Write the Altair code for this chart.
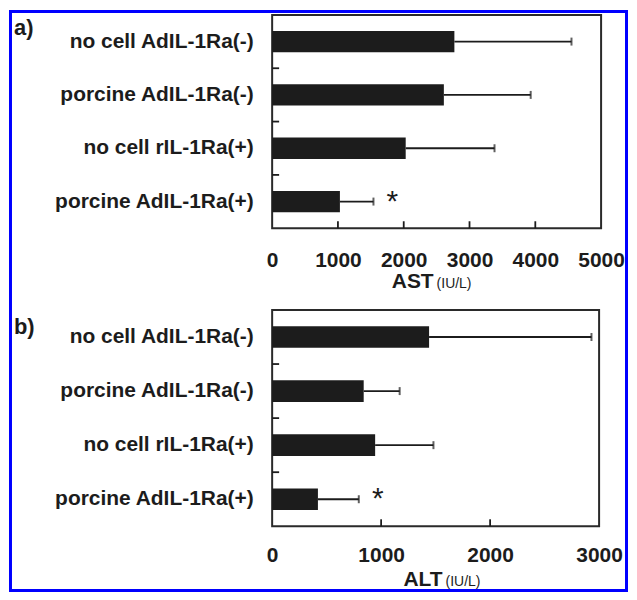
import altair as alt
import pandas as pd

categories = ["no cell AdIL-1Ra(-)", "porcine AdIL-1Ra(-)", "no cell rIL-1Ra(+)", "porcine AdIL-1Ra(+)"]
ast_mean = [2770, 2610, 2030, 1030]
ast_sd = [1780, 1320, 1350, 510]
alt_mean = [1440, 840, 945, 420]
alt_sd = [1490, 330, 535, 375]
significant = [False, False, False, True]
ast_ticks = [0, 1000, 2000, 3000, 4000, 5000]
alt_ticks = [0, 1000, 2000, 3000]

BOLD = "Liberation Sans, Arial, sans-serif"
INK = "#1c1c1c"


def panel(mean, sd, ticks, letter, name, w, h, pad_lbl, title_base, title_shift, letter_y, border=False):
    df = pd.DataFrame({
        "cat": categories,
        "mean": mean,
        "upper": [m + s for m, s in zip(mean, sd)],
        "sig": significant,
    })
    xs = alt.Scale(domain=[ticks[0], ticks[-1]], nice=False, zero=True)
    ys = alt.Scale(domain=categories, paddingInner=0.6, paddingOuter=0.3)
    y_axis = alt.Axis(ticks=False, domain=False, grid=False, labelFont=BOLD,
                      labelFontSize=21, labelFontWeight="bold", labelColor=INK,
                      labelPadding=19, labelLimit=400)
    y_enc = alt.Y("cat:N", sort=categories, scale=ys, title=None, axis=y_axis)
    x_axis = alt.Axis(values=ticks, ticks=False, domain=False, grid=False,
                      labelFlush=False, labelFont=BOLD, labelFontSize=21,
                      labelFontWeight="bold", labelColor=INK, labelPadding=pad_lbl,
                      format="d")
    base = alt.Chart(df)
    bars = base.mark_bar(color=INK).encode(
        x=alt.X("mean:Q", scale=xs, title=None, axis=x_axis), y=y_enc)
    err = base.mark_rule(color=INK, strokeWidth=1.8).encode(
        x=alt.X("mean:Q", scale=xs, title=None, axis=x_axis), x2="upper:Q", y=y_enc)
    cap = base.mark_tick(color=INK, thickness=2, size=8).encode(
        x=alt.X("upper:Q", scale=xs, title=None, axis=x_axis), y=y_enc)
    star = base.transform_filter(alt.datum.sig).mark_text(
        text="*", fontSize=30, font=BOLD, color=INK, dx=19, dy=9,
        baseline="alphabetic", align="center").encode(
        x=alt.X("upper:Q", scale=xs, title=None, axis=x_axis), y=y_enc)

    tick_df = pd.DataFrame({"v": ticks[1:-1]})
    xticks = alt.Chart(tick_df).mark_rule(color=INK, strokeWidth=1.8).encode(
        x=alt.X("v:Q", scale=xs, title=None, axis=x_axis), y=alt.value(h), y2=alt.value(h - 7))

    one = pd.DataFrame({"k": [0]})
    letter_t = alt.Chart(one).mark_text(
        text=letter, font=BOLD, fontSize=22, fontWeight="bold", color=INK,
        align="left", baseline="alphabetic").encode(
        x=alt.value(13 - 272), y=alt.value(letter_y))
    cx = w / 2
    t1 = alt.Chart(one).mark_text(
        text=name, font=BOLD, fontSize=21, fontWeight="bold", color=INK,
        align="right", baseline="alphabetic").encode(
        x=alt.value(cx + title_shift), y=alt.value(title_base))
    t2 = alt.Chart(one).mark_text(
        text="(IU/L)", font=BOLD, fontSize=14, color=INK,
        align="left", baseline="alphabetic").encode(
        x=alt.value(cx + title_shift + 3), y=alt.value(title_base))

    layers = [bars, err, cap, star, xticks, letter_t, t1, t2]
    if border:
        frame = alt.Chart(one).mark_rect(fillOpacity=0, stroke="#0000ff", strokeWidth=3).encode(
            x=alt.value(-262.5), x2=alt.value(355.5), y=alt.value(-3.5), y2=alt.value(577.5))
        layers.append(frame)
    main = alt.layer(*layers)

    sep_df = pd.DataFrame({"cat": categories[1:]})
    seps = alt.Chart(sep_df).mark_rule(color=INK, strokeWidth=1.8).encode(
        y=alt.Y("cat:N", sort=categories, bandPosition=0,
                scale=alt.Scale(domain=categories, paddingInner=0, paddingOuter=0), axis=None),
        x=alt.value(0), x2=alt.value(7))
    return alt.layer(main, seps).resolve_scale(y="independent").properties(width=w, height=h)


pa = panel(ast_mean, ast_sd, ast_ticks, "a)", "AST", 330, 214, 21, 214 + 60, -3, 20, border=True)
pb = panel(alt_mean, alt_sd, alt_ticks, "b)", "ALT", 328, 217, 18, 217 + 60, 7, 24)

chart = alt.vconcat(pa, pb, spacing=82, bounds="flush").properties(
    padding=0, background="white"
).configure_view(stroke="#2a2a2a", strokeWidth=2)

chart.save("out.html", embed_options={"renderer": "svg", "actions": False})
